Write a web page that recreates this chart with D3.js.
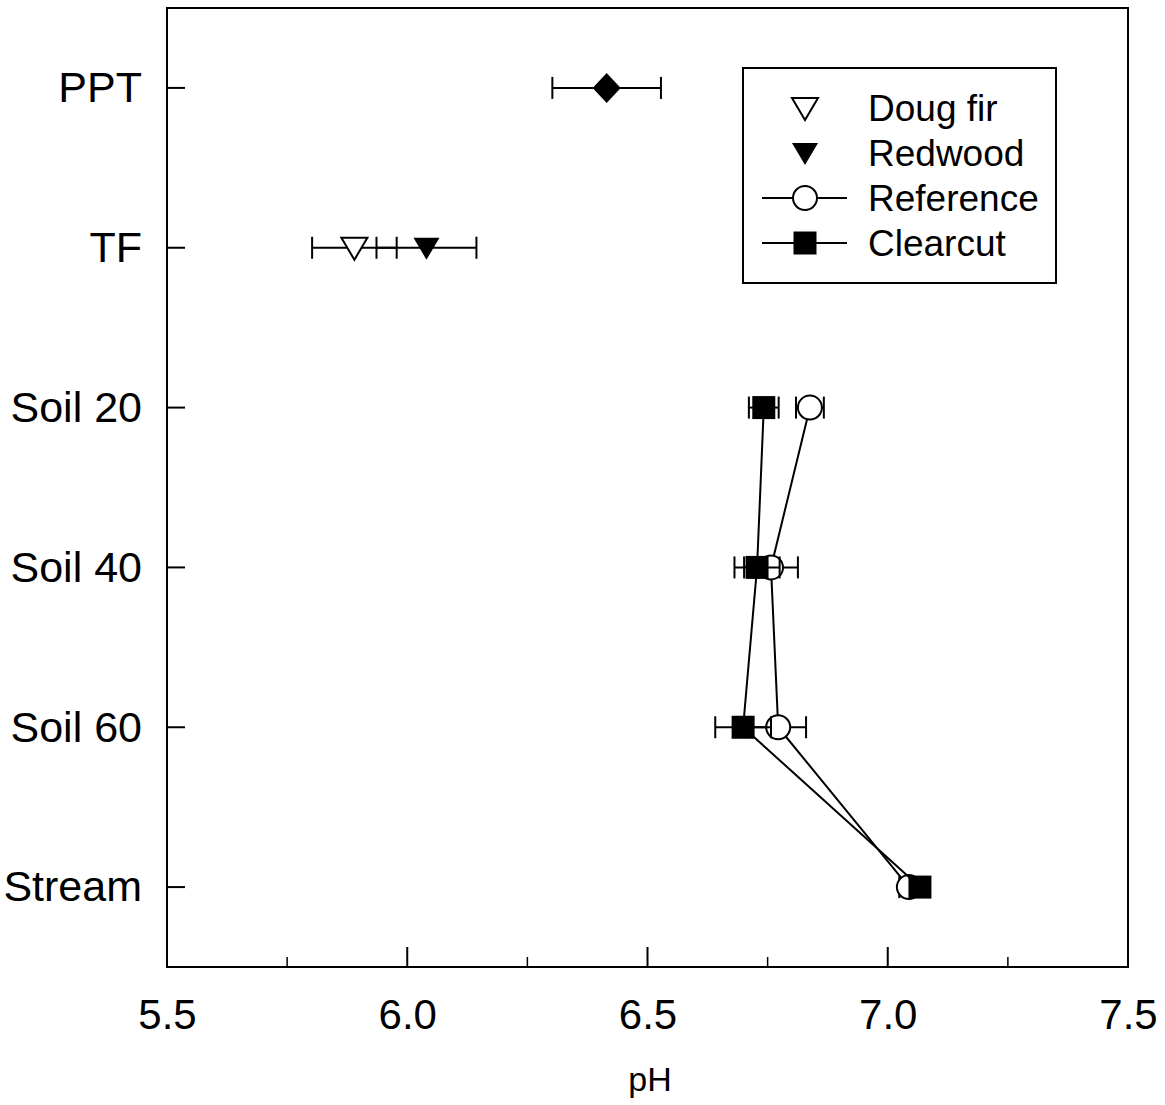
<!DOCTYPE html>
<html>
<head>
<meta charset="utf-8">
<script src="https://cdn.jsdelivr.net/npm/d3@7"></script>
<style>
  html, body { margin: 0; padding: 0; background: #fff; }
  svg text { font-family: "Liberation Sans", Arial, Helvetica, sans-serif; fill: #000; }
</style>
</head>
<body>
<svg id="chart" width="1165" height="1105"></svg>
<script>
// Sampling locations, top to bottom
const sites = ["PPT", "TF", "Soil 20", "Soil 40", "Soil 60", "Stream"];

// Bulk precipitation
const pptSites = ["PPT"];
const pptMean = [6.415];
const pptSE = [0.113];

// Throughfall under the two canopy types
const tfSites = ["TF"];
const dougFirMean = [5.89];
const dougFirSE = [0.088];
const redwoodMean = [6.04];
const redwoodSE = [0.104];

// Soil solution and stream water
const profileSites = ["Soil 20", "Soil 40", "Soil 60", "Stream"];
const referenceMean = [6.838, 6.757, 6.772, 7.044];
const referenceSE = [0.029, 0.056, 0.058, 0.020];
const clearcutMean = [6.742, 6.728, 6.699, 7.067];
const clearcutSE = [0.031, 0.047, 0.058, 0.020];

// Axis
const xMajorTicks = [5.5, 6.0, 6.5, 7.0, 7.5];
const xMinorTicks = [5.75, 6.25, 6.75, 7.25];
const xLabel = "pH";

// Legend
const legendLabels = ["Doug fir", "Redwood", "Reference", "Clearcut"];

const svg = d3.select("#chart");
const plotLeft = 167, plotRight = 1128, plotTop = 8, plotBottom = 967;

const x = d3.scaleLinear().domain([5.5, 7.5]).range([plotLeft, plotRight]);
const y = d3.scalePoint().domain(sites).range([plotTop, plotBottom]).padding(0.5);

// Marker shapes, centred on the origin
const shape = {
  diamond: "M0,-15L14,0L0,15L-14,0Z",
  triDown: "M-13,-10L13,-10L0,12Z",
  square: "M-11.5,-11.5H11.5V11.5H-11.5Z"
};
const CAP = 11;

// Frame
svg.append("rect")
  .attr("x", plotLeft).attr("y", plotTop)
  .attr("width", plotRight - plotLeft).attr("height", plotBottom - plotTop)
  .attr("fill", "none").attr("stroke", "#000").attr("stroke-width", 2);

// Bottom axis: inward ticks
const xAxis = svg.append("g").attr("transform", `translate(0,${plotBottom})`);
xAxis.call(d3.axisBottom(x).tickValues(xMajorTicks).tickSize(0).tickPadding(32)
  .tickFormat(d3.format(".1f")));
xAxis.select(".domain").remove();
xAxis.selectAll("text").attr("font-size", 42).attr("font-family", "Liberation Sans, Arial, sans-serif");
svg.append("g").selectAll("line")
  .data(xMajorTicks.filter(d => d > 5.5 && d < 7.5)).join("line")
  .attr("x1", d => x(d)).attr("x2", d => x(d))
  .attr("y1", plotBottom).attr("y2", plotBottom - 20)
  .attr("stroke", "#000").attr("stroke-width", 2);
svg.append("g").selectAll("line")
  .data(xMinorTicks).join("line")
  .attr("x1", d => x(d)).attr("x2", d => x(d))
  .attr("y1", plotBottom).attr("y2", plotBottom - 10)
  .attr("stroke", "#000").attr("stroke-width", 1.5);

svg.append("text")
  .attr("x", 650).attr("y", 1091)
  .attr("text-anchor", "middle").attr("font-size", 34)
  .text(xLabel);

// Left axis: inward ticks with site names
const yAxis = svg.append("g").attr("transform", `translate(${plotLeft},0)`);
yAxis.call(d3.axisLeft(y).tickSize(0).tickPadding(25));
yAxis.select(".domain").remove();
yAxis.selectAll("text").attr("font-size", 43).attr("font-family", "Liberation Sans, Arial, sans-serif");
svg.append("g").selectAll("line")
  .data(sites).join("line")
  .attr("x1", plotLeft).attr("x2", plotLeft + 18)
  .attr("y1", d => y(d)).attr("y2", d => y(d))
  .attr("stroke", "#000").attr("stroke-width", 2);

// Horizontal error bar with end caps
function errorBars(g, cats, mean, se) {
  const rows = cats.map((c, i) => ({ c, lo: mean[i] - se[i], hi: mean[i] + se[i] }));
  const eb = g.append("g").attr("stroke", "#000").attr("stroke-width", 2);
  eb.selectAll(".bar").data(rows).join("line")
    .attr("x1", d => x(d.lo)).attr("x2", d => x(d.hi))
    .attr("y1", d => y(d.c)).attr("y2", d => y(d.c));
  eb.selectAll(".lo").data(rows).join("line")
    .attr("x1", d => x(d.lo)).attr("x2", d => x(d.lo))
    .attr("y1", d => y(d.c) - CAP).attr("y2", d => y(d.c) + CAP);
  eb.selectAll(".hi").data(rows).join("line")
    .attr("x1", d => x(d.hi)).attr("x2", d => x(d.hi))
    .attr("y1", d => y(d.c) - CAP).attr("y2", d => y(d.c) + CAP);
}

const plot = svg.append("g");

// Precipitation
errorBars(plot, pptSites, pptMean, pptSE);
plot.append("g").selectAll("path").data(pptSites).join("path")
  .attr("d", shape.diamond)
  .attr("transform", (d, i) => `translate(${x(pptMean[i])},${y(d)})`)
  .attr("fill", "#000");

// Throughfall
errorBars(plot, tfSites, dougFirMean, dougFirSE);
errorBars(plot, tfSites, redwoodMean, redwoodSE);
plot.append("g").selectAll("path").data(tfSites).join("path")
  .attr("d", shape.triDown)
  .attr("transform", (d, i) => `translate(${x(dougFirMean[i])},${y(d)})`)
  .attr("fill", "#fff").attr("stroke", "#000").attr("stroke-width", 2);
plot.append("g").selectAll("path").data(tfSites).join("path")
  .attr("d", shape.triDown)
  .attr("transform", (d, i) => `translate(${x(redwoodMean[i])},${y(d)})`)
  .attr("fill", "#000");

const line = d3.line().x(d => x(d[1])).y(d => y(d[0]));

// Reference catchment
plot.append("path")
  .datum(profileSites.map((s, i) => [s, referenceMean[i]]))
  .attr("d", line).attr("fill", "none").attr("stroke", "#000").attr("stroke-width", 2);
errorBars(plot, profileSites, referenceMean, referenceSE);
plot.append("g").selectAll("circle").data(profileSites).join("circle")
  .attr("cx", (d, i) => x(referenceMean[i])).attr("cy", d => y(d))
  .attr("r", 12).attr("fill", "#fff").attr("stroke", "#000").attr("stroke-width", 2);

// Clearcut catchment
plot.append("path")
  .datum(profileSites.map((s, i) => [s, clearcutMean[i]]))
  .attr("d", line).attr("fill", "none").attr("stroke", "#000").attr("stroke-width", 2);
errorBars(plot, profileSites, clearcutMean, clearcutSE);
plot.append("g").selectAll("path").data(profileSites).join("path")
  .attr("d", shape.square)
  .attr("transform", (d, i) => `translate(${x(clearcutMean[i])},${y(d)})`)
  .attr("fill", "#000");

// Legend
const legend = svg.append("g");
legend.append("rect")
  .attr("x", 743).attr("y", 68).attr("width", 313).attr("height", 215)
  .attr("fill", "#fff").attr("stroke", "#000").attr("stroke-width", 2);
const legendY = d3.scalePoint().domain(legendLabels).range([108, 243]);
const symX = 805;
legendLabels.forEach((lab, i) => {
  const cy = legendY(lab);
  const g = legend.append("g");
  if (i >= 2) {
    g.append("line").attr("x1", 762).attr("x2", 847).attr("y1", cy).attr("y2", cy)
      .attr("stroke", "#000").attr("stroke-width", 2);
  }
  if (i === 0) {
    g.append("path").attr("d", shape.triDown).attr("transform", `translate(${symX},${cy})`)
      .attr("fill", "#fff").attr("stroke", "#000").attr("stroke-width", 2);
  } else if (i === 1) {
    g.append("path").attr("d", shape.triDown).attr("transform", `translate(${symX},${cy})`)
      .attr("fill", "#000");
  } else if (i === 2) {
    g.append("circle").attr("cx", symX).attr("cy", cy).attr("r", 12)
      .attr("fill", "#fff").attr("stroke", "#000").attr("stroke-width", 2);
  } else {
    g.append("path").attr("d", shape.square).attr("transform", `translate(${symX},${cy})`)
      .attr("fill", "#000");
  }
  g.append("text").attr("x", 868).attr("y", cy).attr("dy", "0.35em")
    .attr("font-size", 37).text(lab);
});
</script>
</body>
</html>
